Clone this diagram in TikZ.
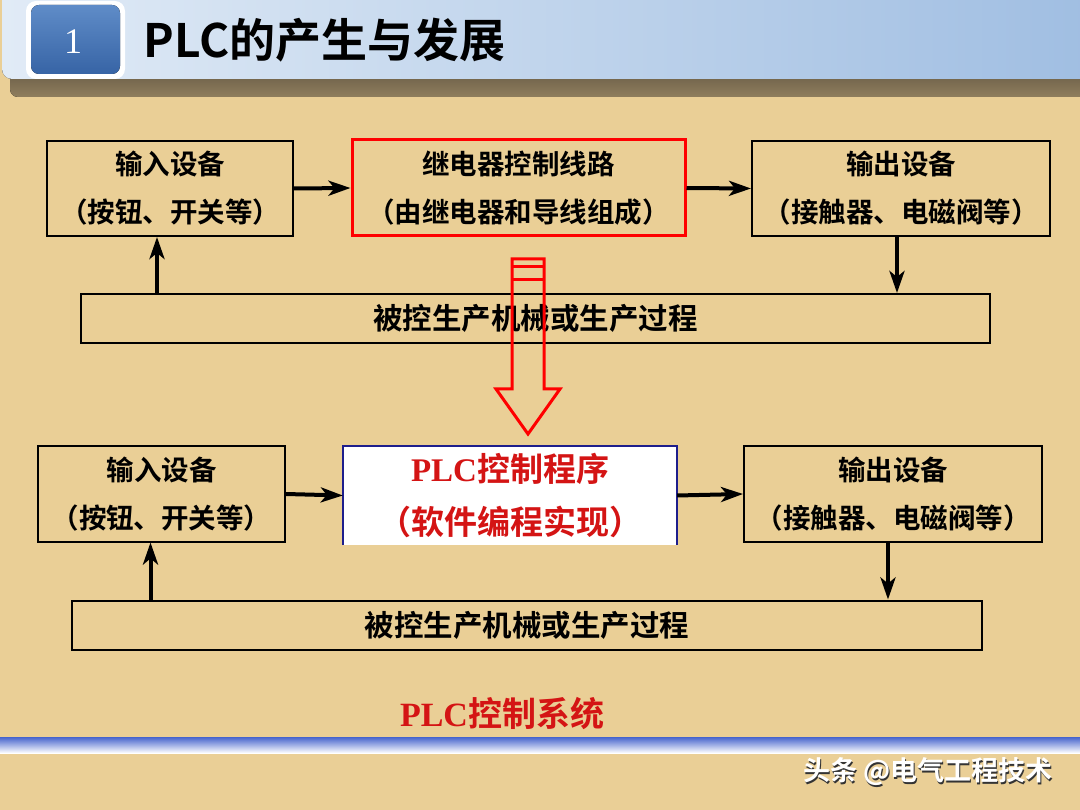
\documentclass[tikz,border=0pt]{standalone}
\usepackage{fontspec}
\setmainfont{Liberation Serif}
\newfontfamily\cjk{Noto Sans CJK SC}[BoldFont={Noto Sans CJK SC Bold}]
\usetikzlibrary{arrows.meta}
\definecolor{parch}{RGB}{234,207,150}
\definecolor{plcred}{RGB}{212,20,20}
\definecolor{navy}{RGB}{30,30,140}
\definecolor{barlight}{RGB}{225,235,246}
\definecolor{barblue}{RGB}{160,190,226}
\definecolor{numtop}{RGB}{95,140,200}
\definecolor{numbot}{RGB}{55,100,165}
\definecolor{shadowband}{RGB}{105,92,70}
\definecolor{linebar}{RGB}{70,100,205}
\tikzset{
  boxnode/.style={draw=black, line width=2pt, minimum width=#1, minimum height=95pt, inner sep=0pt,
    align=center, font=\cjk\bfseries\fontsize{27.5}{48}\selectfont},
  procnode/.style={draw=black, line width=2pt, minimum width=909pt, minimum height=49pt, inner sep=0pt,
    font=\cjk\bfseries\fontsize{29.5}{32}\selectfont},
  arr/.style={line width=4pt, -{Stealth[length=22pt,width=15pt,inset=6pt]}},
}
\begin{document}
\begin{tikzpicture}[x=1pt,y=-1pt]
\useasboundingbox (0,0) rectangle (1080,810);
\fill[parch] (0,0) rectangle (1080,810);
% header
\fill[top color=shadowband, bottom color=shadowband!70!parch, rounded corners=8pt] (10,70) rectangle (1090,97);
\fill[left color=barlight, right color=barblue, rounded corners=10pt] (2,-10) rectangle (1090,79);
\fill[white, rounded corners=10pt] (26,1) rectangle (125,79);
\fill[top color=numtop, bottom color=numbot, rounded corners=8pt] (31,5) rectangle (120,74);
\node[text=white, font=\fontsize{36}{38}\selectfont] (num) at (73,42) {1};
\node[anchor=west, font=\cjk\bfseries\fontsize{46}{50}\selectfont] (title) at (140,40) {PLC的产生与发展};
% top row
\node[boxnode=246pt] (b1) at (170,188.5) {输入设备\\（按钮、开关等）};
\node[boxnode=333pt, draw=red, line width=3pt, minimum height=96pt] (b2) at (518.5,188) {继电器控制线路\\（由继电器和导线组成）};
\node[boxnode=298pt] (b3) at (901,188.5) {输出设备\\（接触器、电磁阀等）};
\node[procnode] (p1) at (535.5,318.5) {被控生产机械或生产过程};
\draw[arr] (b1.east) -- (b2.west);
\draw[arr] (b2.east) -- (b3.west);
\draw[arr] ([xshift=-4pt]b3.south) -- ([xshift=-4pt]b3.south |- p1.north);
\draw[arr] ([xshift=-13pt]b1.south |- p1.north) -- ([xshift=-13pt]b1.south);
% hollow red arrow
\draw[red, line width=3pt, line join=miter] (512,259) -- (512,389) -- (496,389) -- (528,434) -- (560,389) -- (544,389) -- (544,259) -- cycle;
\draw[red, line width=3pt] (512,267) -- (544,267) (512,280) -- (544,280);
% bottom row
\node[boxnode=247pt] (c1) at (161.5,494) {输入设备\\（按钮、开关等）};
\node[fill=white, minimum width=334pt, minimum height=99pt, inner sep=0pt, align=center, text=plcred,
  font=\fontsize{33}{53}\selectfont] (c2) at (510,495.5)
  {{\bfseries PLC}{\cjk\bfseries 控制程序}\\{\cjk\bfseries （软件编程实现）}};
\draw[navy, line width=2.5pt] (c2.south west) -- (c2.north west) -- (c2.north east) -- (c2.south east);
\node[boxnode=298pt] (c3) at (893,494) {输出设备\\（接触器、电磁阀等）};
\node[procnode, minimum width=910pt] (p2) at (527,625) {被控生产机械或生产过程};
\draw[arr] (c1.east) -- (c2.west);
\draw[arr] (c2.east) -- (c3.west);
\draw[arr] ([xshift=-5pt]c3.south) -- ([xshift=-5pt]c3.south |- p2.north);
\draw[arr] ([xshift=-11pt]c1.south |- p2.north) -- ([xshift=-11pt]c1.south);
% caption
\node[text=plcred, font=\fontsize{34}{38}\selectfont] (cap) at (502,714) {{\bfseries PLC}{\cjk\bfseries 控制系统}};
% blue bar
\shade[top color=linebar, bottom color=white] (0,737) rectangle (1080,753);
% watermark
\node[anchor=east, text=black!80, font=\cjk\bfseries\fontsize{27}{30}\selectfont] (wms) at (1057.5,773.5) {头条 @电气工程技术};
\node[anchor=east, text=white, font=\cjk\bfseries\fontsize{27}{30}\selectfont] (wm) at (1056,772) {头条 @电气工程技术};
\end{tikzpicture}
\end{document}
